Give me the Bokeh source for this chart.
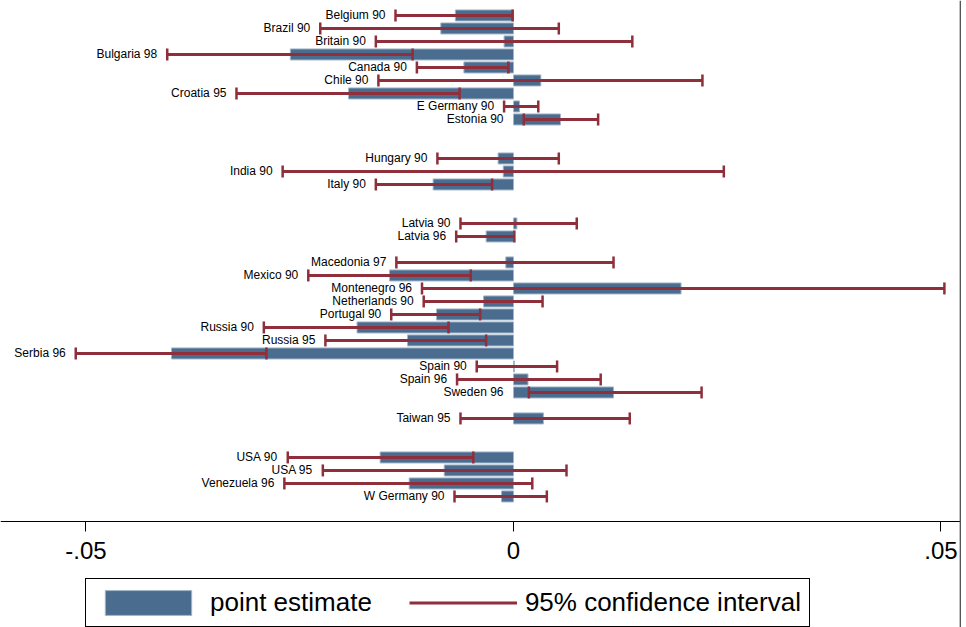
import numpy as np
from bokeh.plotting import figure
from bokeh.models import (Range1d, FixedTicker, Legend, LegendItem, Span,
                          ColumnDataSource)
from bokeh.core.properties import value
from bokeh.embed import file_html
from bokeh.resources import INLINE

# ---- data ----
labels = ["Belgium 90", "Brazil 90", "Britain 90", "Bulgaria 98", "Canada 90",
          "Chile 90", "Croatia 95", "E Germany 90", "Estonia 90",
          "Hungary 90", "India 90", "Italy 90",
          "Latvia 90", "Latvia 96",
          "Macedonia 97", "Mexico 90", "Montenegro 96", "Netherlands 90",
          "Portugal 90", "Russia 90", "Russia 95", "Serbia 96", "Spain 90",
          "Spain 96", "Sweden 96",
          "Taiwan 95",
          "USA 90", "USA 95", "Venezuela 96", "W Germany 90"]
rows = [0, 1, 2, 3, 4, 5, 6, 7, 8,
        11, 12, 13,
        16, 17,
        19, 20, 21, 22, 23, 24, 25, 26, 27, 28, 29,
        31,
        34, 35, 36, 37]
est = [-0.0068, -0.0085, -0.0011, -0.0261, -0.0058, 0.0032, -0.0193, 0.0007, 0.0055,
       -0.0018, -0.0012, -0.0094,
       0.0004, -0.0032,
       -0.0009, -0.0145, 0.0196, -0.0035, -0.0090, -0.0183, -0.0124, -0.0400, 0.0001,
       0.0017, 0.0117,
       0.0035,
       -0.0156, -0.0081, -0.0122, -0.0014]
ci_lo = [-0.0138, -0.0226, -0.0161, -0.0405, -0.0113, -0.0158, -0.0324, -0.0011, 0.0012,
         -0.0089, -0.0270, -0.0161,
         -0.0062, -0.0067,
         -0.0137, -0.0240, -0.0107, -0.0105, -0.0143, -0.0292, -0.0220, -0.0512, -0.0043,
         -0.0066, 0.0018,
         -0.0062,
         -0.0264, -0.0223, -0.0268, -0.0069]
ci_hi = [-0.0001, 0.0053, 0.0139, -0.0118, -0.0006, 0.0221, -0.0063, 0.0029, 0.0099,
         0.0053, 0.0246, -0.0025,
         0.0074, 0.0001,
         0.0117, -0.0050, 0.0504, 0.0034, -0.0039, -0.0076, -0.0032, -0.0289, 0.0051,
         0.0102, 0.0220,
         0.0136,
         -0.0047, 0.0062, 0.0022, 0.0039]
tick_values = [-0.05, 0, 0.05]
tick_labels = ["-.05", "0", ".05"]

BAR = "#4a6c8f"
CI = "#8f2f3b"
FONT = "Liberation Sans"

# labels sit left of whichever is further left: the lower CI bound or zero
label_x = np.minimum(np.array(ci_lo), 0.0)

src = ColumnDataSource(dict(label=labels, row=rows, est=est, lo=ci_lo, hi=ci_hi,
                            lx=label_x))

p = figure(frame_width=961, frame_height=627,
           x_range=Range1d(-0.06, 0.0524), y_range=Range1d(47.08, -1.15),
           output_backend="svg", toolbar_location=None, y_axis_location=None,
           min_border=0, min_border_left=0, min_border_right=0,
           min_border_top=0, min_border_bottom=0)
p.background_fill_color = "white"
p.border_fill_color = "white"
p.outline_line_color = None
p.xgrid.visible = False
p.ygrid.visible = False

bars = p.hbar(y="row", left=0, right="est", height=0.85, source=src,
              fill_color=BAR, line_color="#a3b6ca", line_width=1)
ci_line = p.segment(x0="lo", y0="row", x1="hi", y1="row", source=src,
                    line_color=CI, line_width=3)
p.scatter(x="lo", y="row", marker="dash", size=12, angle=np.pi / 2, source=src,
          line_color=CI, line_width=2.5)
p.scatter(x="hi", y="row", marker="dash", size=12, angle=np.pi / 2, source=src,
          line_color=CI, line_width=2.5)
p.text(x="lx", y="row", text="label", source=src, text_align="right",
       text_baseline="middle", x_offset=-10, text_font=value(FONT),
       text_font_size="12px", text_color="black")

p.add_layout(Span(location=0.0523, dimension="height", line_color="#555555",
                  line_width=2))

ax = p.xaxis[0]
ax.fixed_location = 38.93
ax.ticker = FixedTicker(ticks=tick_values, minor_ticks=[])
ax.major_label_overrides = {v: s for v, s in zip(tick_values, tick_labels)}
ax.major_label_text_font = FONT
ax.major_label_text_font_size = "24px"
ax.major_label_text_color = "black"
ax.major_tick_out = 10
ax.major_tick_in = 0
ax.minor_tick_line_color = None
ax.major_label_standoff = 10
ax.axis_line_color = "black"
ax.major_tick_line_color = "black"

legend = Legend(items=[LegendItem(label="point estimate", renderers=[bars]),
                       LegendItem(label="95% confidence interval", renderers=[ci_line])],
                orientation="horizontal", location=(85, 0),
                label_text_font=FONT, label_text_font_size="26px",
                label_text_color="black",
                glyph_width=108, glyph_height=31, label_standoff=8, spacing=37,
                padding=8, margin=0, border_line_color="black",
                border_line_alpha=1.0, border_line_width=1,
                background_fill_color="white", background_fill_alpha=1.0)
p.add_layout(legend, "center")

open("out.html", "w").write(file_html(p, INLINE))
